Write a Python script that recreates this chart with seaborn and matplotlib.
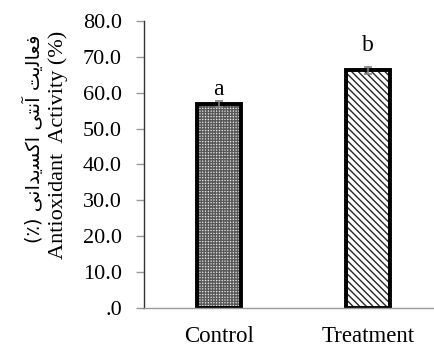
import matplotlib
matplotlib.use("Agg")
import matplotlib.pyplot as plt
import seaborn as sns
import pandas as pd

categories = ["Control", "Treatment"]
values = [56.8, 66.3]
errors = [0.8, 1.0]
letters = ["a", "b"]
letter_y = [59.3, 71.6]
yticks = [0, 10, 20, 30, 40, 50, 60, 70, 80]
yticklabels = [".0", "10.0", "20.0", "30.0", "40.0", "50.0", "60.0", "70.0", "80.0"]
hatches = ["++++++", "\\\\\\\\\\"]
hatch_colors = [(0.35, 0.35, 0.35, 1.0), (0.15, 0.15, 0.15, 1.0)]

sns.set_theme(style="white")
plt.rcParams["font.family"] = ["Liberation Serif", "DejaVu Sans"]
plt.rcParams["hatch.linewidth"] = 1.0

df = pd.DataFrame({"cat": categories, "val": values})

fig = plt.figure(figsize=(4.35, 3.49), dpi=100)
ax = fig.add_axes([0.331, 0.1175, 0.669, 0.8225])

sns.barplot(data=df, x="cat", y="val", ax=ax, color="white", width=0.295,
            errorbar=None, edgecolor="black", linewidth=2.8)
for p, h, hc in zip(ax.patches, hatches, hatch_colors):
    p.set_hatch(h)
    p.set_facecolor("#e6e6e6" if h.startswith("+") else "white")
    p._hatch_color = hc

ax.errorbar(x=range(len(values)), y=values, yerr=errors, fmt="none",
            ecolor="#808080", elinewidth=1.2, capsize=3, capthick=1.2)

for i, (l, y) in enumerate(zip(letters, letter_y)):
    ax.text(i, y, l, ha="center", va="baseline", fontsize=17, color="black")

ax.set_xlim(-0.5, 1.45)
ax.set_ylim(0, 80)
ax.set_yticks(yticks)
ax.set_yticklabels(yticklabels, fontsize=16)
ax.tick_params(axis="y", which="both", left=True, length=6, width=1, color="#999999", pad=10)
ax.tick_params(axis="x", bottom=False, labelsize=16.5, pad=7)
for lab in ax.get_xticklabels() + ax.get_yticklabels():
    lab.set_color("black")
ax.set_xlabel("")
ax.set_ylabel("")

for s in ["top", "right"]:
    ax.spines[s].set_visible(False)
ax.spines["left"].set_color("#333333")
ax.spines["left"].set_linewidth(1.0)
ax.spines["bottom"].set_color("#999999")
ax.spines["bottom"].set_linewidth(1.0)

# Persian label in shaped presentation forms, visual order
persian = ("(\u066A) "
           + "\uFBFD\uFEE7\uFE8D\uFEAA\uFBFE\uFEB4\uFB90\uFE8D"
           + " "
           + "\uFBFD\uFE98\uFEE7\uFE81"
           + " "
           + "\uFE96\uFBFE\uFEDF\uFE8E\uFECC\uFED3")
fig.text(0.077, 0.603, persian, rotation=90, ha="center", va="center",
         fontsize=14, family=["DejaVu Sans"], color="black")
fig.text(0.134, 0.586, "Antioxidant  Activity (%)", rotation=90, ha="center",
         va="center", fontsize=16, color="black")

fig.savefig("out.png", dpi=100)
